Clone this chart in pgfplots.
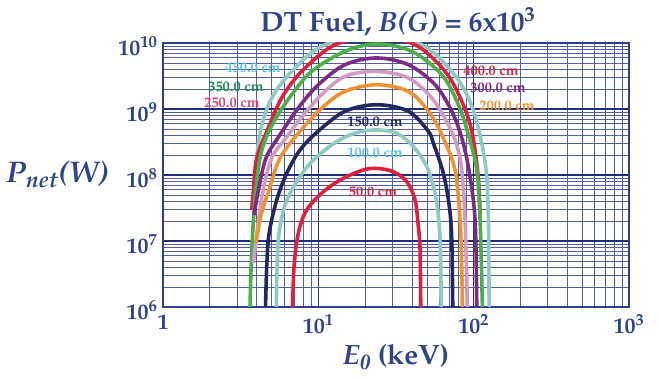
\documentclass[border=0pt]{standalone}
\usepackage[T1]{fontenc}
\usepackage{mathpazo}
\usepackage{pgfplots}
\pgfplotsset{compat=1.18}
\definecolor{txt}{RGB}{44,68,140}
\definecolor{axcol}{RGB}{44,62,140}
\definecolor{gridmaj}{RGB}{30,45,125}
\definecolor{gridmin}{RGB}{80,96,160}
\definecolor{cred}{RGB}{224,32,58}
\definecolor{cteal}{RGB}{143,202,194}
\definecolor{cnavy}{RGB}{34,39,94}
\definecolor{corange}{RGB}{240,146,46}
\definecolor{cpink}{RGB}{212,155,194}
\definecolor{cpurple}{RGB}{123,43,131}
\definecolor{cgreen}{RGB}{76,176,72}
\definecolor{lblue}{RGB}{91,194,231}
\definecolor{dgreen}{RGB}{30,140,74}
\definecolor{lmag}{RGB}{224,64,122}
\begin{document}
\begin{tikzpicture}
\begin{axis}[
 name=ax, scale only axis, width=466bp, height=264bp,
 xmode=log, ymode=log, xmin=1, xmax=1000, ymin=1e6, ymax=1e10,
 xtick={1,10,100,1000},
 xticklabels={\textbf{1},\textbf{10\textsuperscript{1}},\textbf{10\textsuperscript{2}},\textbf{10\textsuperscript{3}}},
 ytick={1e6,1e7,1e8,1e9,1e10},
 yticklabels={\textbf{10\textsuperscript{6}},\textbf{10\textsuperscript{7}},\textbf{10\textsuperscript{8}},\textbf{10\textsuperscript{9}},\textbf{10\textsuperscript{10}}},
 grid=both,
 major grid style={line width=1.2bp, draw=gridmaj},
 minor grid style={line width=0.7bp, draw=gridmin},
 axis line style={line width=2bp, draw=axcol},
 major tick length=0pt, minor tick length=0pt,
 ticklabel style={text=txt, font=\fontsize{22}{24}\selectfont},
 xticklabel style={yshift=-4bp},
 yticklabel style={yshift=-3bp, xshift=-2bp},
 clip=true,
 cv/.style={line width=3.6bp, smooth, tension=0.55, line join=round},
]
% 450 cm
\addplot[cv, cteal] coordinates {(4.013,1.87e8)(4.277,5.15e8)(5.011,1.47e9)(6.741,3.72e9)(10.52,8.91e9)(22.17,1.45e10)(46.33,9.42e9)(72.28,3.72e9)(92.44,1.47e9)(107.2,5.15e8)(120.2,1.19e8)(124.4,2.08e7)(125.7,1e6)};
% 400 cm
\addplot[cv, cred] coordinates {(3.726,2.95e7)(3.815,5.52e7)(4.013,1.81e8)(4.764,5.15e8)(5.812,1.47e9)(7.818,3.72e9)(12.81,9.42e9)(23.77,1.24e10)(41.96,9.42e9)(65.43,3.72e9)(83.82,1.31e9)(97.23,4.59e8)(106.7,1.0e8)(110.0,2.48e7)};
% 350 cm
\addplot[cv, cgreen] coordinates {(3.633,1e6)(3.687,3.64e6)(3.781,1.37e7)(3.942,5.52e7)(4.214,1.81e8)(4.605,3.64e8)(5.341,7.31e8)(6.741,1.65e9)(9.068,3.72e9)(14.86,7.48e9)(23.77,9.66e9)(39.95,7.48e9)(62.32,3.31e9)(79.72,1.16e9)(92.44,4.08e8)(104.7,1.19e8)(110.0,2.08e7)(113.8,1e6)};
% 300 cm
\addplot[cv, cpurple] coordinates {(3.855,2.48e7)(4.091,5.52e7)(4.605,1.81e8)(5.668,4.08e8)(7.434,1.04e9)(10.0,2.33e9)(14.86,4.69e9)(23.77,5.93e9)(37.98,4.69e9)(56.43,2.33e9)(72.28,9.23e8)(83.82,3.64e8)(93.41,1.15e8)(102.1,2.08e7)(104.7,1e6)};
% 250 cm
\addplot[cv, cpink] coordinates {(3.815,4.64e6)(4.031,1.37e7)(4.385,5.52e7)(5.011,1.81e8)(6.194,3.64e8)(7.737,7.31e8)(10.52,1.65e9)(14.86,3.13e9)(23.77,3.72e9)(37.98,2.95e9)(53.73,1.47e9)(68.73,5.78e8)(77.84,2.85e8)(83.82,1.19e8)(88.02,2.08e7)(91.07,1e6)};
% 200 cm
\addplot[cv, corange] coordinates {(3.971,9.33e6)(4.276,2.48e7)(4.764,5.52e7)(5.668,1.81e8)(7.624,4.59e8)(10.56,1.04e9)(14.86,1.85e9)(23.77,2.33e9)(37.98,1.85e9)(51.09,9.23e8)(62.32,4.08e8)(75.90,1.19e8)(81.73,2.08e7)(83.82,3.64e6)(84.56,9.0e5)};
% 150 cm
\addplot[cv, cnavy] coordinates {(4.571,1e6)(4.653,4.04e6)(4.814,1.28e7)(5.397,4.18e7)(6.259,1.06e8)(7.624,2.39e8)(9.956,4.59e8)(14.86,9.23e8)(23.77,1.16e9)(37.98,9.23e8)(51.09,4.59e8)(55.03,3.02e8)(63.80,1.06e8)(69.75,3.31e7)(72.28,1.04e7)(73.35,1e6)};
% 100 cm
\addplot[cv, cteal] coordinates {(5.365,1e6)(5.421,4.04e6)(5.58,1.31e7)(6.105,3.51e7)(7.261,7.94e7)(9.286,1.69e8)(13.14,3.2e8)(17.68,4.38e8)(23.77,4.81e8)(31.98,4.29e8)(40.91,2.69e8)(49.89,1.34e8)(56.43,5.28e7)(60.14,1.65e7)(61.41,4.04e6)(61.68,1e6)};
% 50 cm
\addplot[cv, cred] coordinates {(6.842,1e6)(6.975,4.04e6)(7.434,1.31e7)(8.42,2.95e7)(10.77,5.58e7)(14.49,8.91e7)(19.49,1.19e8)(23.77,1.26e8)(30.41,1.12e8)(37.10,7.93e7)(41.96,4.18e7)(44.06,1.65e7)(45.18,7.31e6)(45.65,1e6)};
\tikzset{lab/.style={font=\fontsize{14.5}{16}\selectfont\bfseries}}
\node[lab, text=lblue] at (axis cs:3.80,4.18e9) {450.0 cm};
\node[lab, text=dgreen] at (axis cs:2.95,2.15e9) {350.0 cm};
\node[lab, text=lmag] at (axis cs:2.78,1.23e9) {250.0 cm};
\node[lab, text=cred] at (axis cs:129.4,3.77e9) {400.0 cm};
\node[lab, text=cpurple] at (axis cs:143.6,2.08e9) {300.0 cm};
\node[lab, text=corange] at (axis cs:164,1.11e9) {200.0 cm};
\node[lab, text=cnavy] at (axis cs:23.2,6.43e8) {150.0 cm};
\node[lab, text=lblue] at (axis cs:23.2,2.18e8) {100.0 cm};
\node[lab, text=cred] at (axis cs:22.5,5.58e7) {50.0 cm};
\end{axis}
\node[anchor=base, text=txt, font=\fontsize{28}{32}\selectfont\bfseries] at ([yshift=11bp,xshift=2bp]ax.north) {DT Fuel, \textit{B(G)} = 6x10\textsuperscript{3}};
\node[anchor=base east, text=txt, font=\fontsize{30}{34}\selectfont\bfseries] at ([xshift=-51bp,yshift=124bp]ax.south west) {\textit{P}\textsubscript{\textit{net}}\textit{(W)}};
\node[anchor=base, text=txt, font=\fontsize{28}{32}\selectfont\bfseries] at ([yshift=-58bp]ax.south) {\textit{E}\textsubscript{\textit{0}} (keV)};
\pgfresetboundingbox
\path ([xshift=-163bp,yshift=-72bp]ax.south west) rectangle ([xshift=30bp,yshift=43bp]ax.north east);
\end{tikzpicture}
\end{document}
